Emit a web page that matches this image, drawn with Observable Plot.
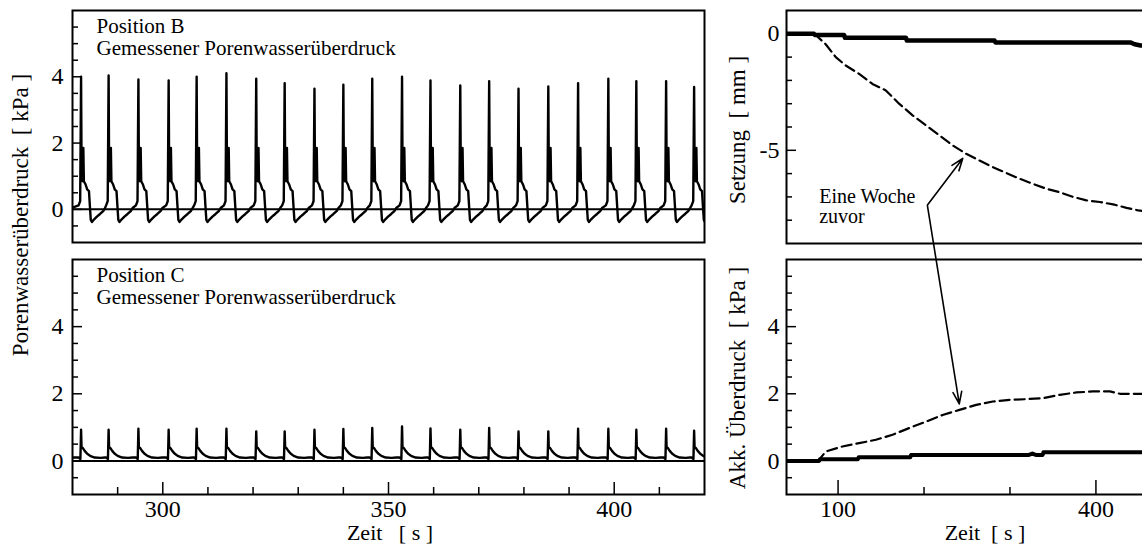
<!DOCTYPE html>
<html><head><meta charset="utf-8">
<script src="https://cdn.jsdelivr.net/npm/d3@7"></script>
<script src="https://cdn.jsdelivr.net/npm/@observablehq/plot@0.6"></script>
<style>
body{margin:0;background:#fff;}
#fig{position:relative;width:1142px;height:546px;overflow:hidden;background:#fff;font-family:'Liberation Serif','Tinos','DejaVu Serif',serif;color:#000;}
#fig svg{position:absolute;overflow:visible;}
#fig svg text{font-family:'Liberation Serif','Tinos','DejaVu Serif',serif;}
.lab{position:absolute;white-space:pre;font-size:23px;line-height:1;}
.rot{transform:translate(-50%,-50%) rotate(-90deg);}
.hor{transform:translate(-50%,0);font-size:22px;}
</style></head><body><div id="fig"></div>
<script>
// ---------- data ----------
// left panels: load cycles (time of each pressure spike, s)
const spikeTimes = [281.9, 288.0, 294.6, 301.3, 307.5, 314.1, 320.7, 327.0, 333.6, 340.0, 346.4,
                    353.0, 359.3, 365.9, 372.3, 378.8, 385.4, 392.0, 398.7, 404.9, 411.5, 417.7];
// peak of each spike, kPa
const peaksB = [4.0, 4.04, 3.92, 3.89, 4.0, 4.11, 3.94, 3.81, 3.64, 3.76, 3.94,
                4.0, 3.89, 3.74, 3.87, 3.64, 3.71, 3.81, 3.94, 3.87, 3.87, 3.69];
const peaksC = [0.93, 0.93, 0.96, 0.93, 0.96, 0.96, 0.88, 0.88, 0.93, 0.95, 0.98,
                1.03, 0.97, 0.93, 0.98, 0.88, 0.88, 0.96, 0.96, 0.93, 0.96, 0.9];
// shape of one cycle (time after spike, kPa; null = the spike peak)
const cycleOffsetsB = [-0.55, -0.2, 0, 0.12, 0.35, 0.5, 0.62, 1.0, 1.35, 1.75, 1.95, 2.15, 2.4, 2.9, 3.5, 4.2, 4.9, 5.3];
const cycleValuesB  = [0.12, 0.25, null, 1.0, 0.85, 1.85, 0.85, 0.75, 0.6, 0.55, 0.1, -0.32, -0.38, -0.3, -0.22, -0.14, -0.05, 0.04];
const cycleOffsetsC = [-0.55, -0.15, 0, 0.1, 0.4, 0.8, 1.3, 2.0, 3.0, 4.3, 5.3];
const cycleValuesC  = [0.1, 0.06, null, 0.42, 0.38, 0.3, 0.22, 0.15, 0.1, 0.09, 0.1];

// right top: Setzung [mm]
const setzTime  = [40, 72, 73, 107, 108, 179, 180, 282, 283, 440, 445, 452, 460];
const setzNow   = [0, 0, -0.05, -0.05, -0.17, -0.17, -0.29, -0.29, -0.37, -0.37, -0.45, -0.5, -0.5];
const setzWeekTime = [72, 74, 85.6, 97.3, 108.9, 124.5, 140, 155.6, 171, 186.7, 202.3, 217.9, 233.4, 249, 264.5,
                      280, 295.6, 311.2, 326.7, 342.3, 357.8, 373.3, 388.9, 404.5, 420, 435.6, 449.2, 460];
const setzWeek  = [0, -0.05, -0.45, -1.0, -1.36, -1.72, -2.15, -2.43, -3.0, -3.5, -3.93, -4.36, -4.79, -5.15, -5.44,
                   -5.72, -5.97, -6.22, -6.44, -6.65, -6.8, -7.0, -7.15, -7.22, -7.32, -7.47, -7.58, -7.62];
// right bottom: akkumulierter Überdruck [kPa]
const akkTime = [40, 78, 79, 123, 124, 184, 185, 322, 326, 330, 338, 339, 460];
const akkNow  = [0, 0, 0.05, 0.05, 0.11, 0.11, 0.18, 0.18, 0.22, 0.18, 0.18, 0.26, 0.26];
const akkWeekTime = [40, 77.8, 85.6, 105, 124.5, 144, 163.4, 182.8, 202.3, 221.7, 241.2, 260.7, 280.1, 299.5,
                     319, 338.4, 357.9, 377.4, 396.8, 416.3, 428, 460];
const akkWeek = [0, 0.03, 0.28, 0.43, 0.53, 0.63, 0.78, 0.98, 1.17, 1.37, 1.52, 1.67, 1.77, 1.82,
                 1.84, 1.87, 1.97, 2.04, 2.07, 2.07, 2.0, 2.0];

// ticks
const yKpaMajor = [0, 2, 4];
const yKpaMinor = [-0.5, 0.5, 1, 1.5, 2.5, 3, 3.5, 4.5, 5, 5.5];
const ySetzMajor = [0, -5];
const ySetzMinor = [-1, -2, -3, -4, -6, -7, -8];
const xLeftMajor = [300, 350, 400];
const xLeftMinor = [290, 310, 320, 330, 340, 360, 370, 380, 390, 410];
const xRightMajor = [100, 400];
const xRightMinor = [200, 300];

// texts
const titleB = "Position B\nGemessener Porenwasserüberdruck";
const titleC = "Position C\nGemessener Porenwasserüberdruck";
const annotation = [{x: 78, y: -6.6, text: "Eine Woche\nzuvor"}];
const arrowSetz = [{x1: 204, y1: -7.35, x2: 245, y2: -5.35}];
const arrowAkk  = [{x1: 204, y1: 7.6, x2: 241, y2: 1.7}];

// ---------- build tables ----------
function buildSeries(times, peaks, offs, vals, t0, v0) {
  const pts = [{t: t0, v: v0}];
  times.forEach((ts, i) => offs.forEach((o, j) => pts.push({t: ts + o, v: vals[j] === null ? peaks[i] : vals[j]})));
  return pts;
}
const seriesB = buildSeries(spikeTimes, peaksB, cycleOffsetsB, cycleValuesB, 280, 0.05);
const seriesC = buildSeries(spikeTimes, peaksC, cycleOffsetsC, cycleValuesC, 280, 0.1);
const zip = (xs, ys) => xs.map((x, i) => ({t: x, v: ys[i]}));

const font = "'Liberation Serif', 'Tinos', 'DejaVu Serif', serif";
const fig = document.getElementById("fig");
const style = {fontFamily: font, fontSize: "21px", overflow: "visible", background: "none"};
const fmt = d => String(d);
function place(svg, left, top) { svg.style.left = left + "px"; svg.style.top = top + "px"; fig.appendChild(svg); }

function yAxes(major, minor, pad) {
  return [
    Plot.axisY({ticks: minor, anchor: "left", tickSize: -6, tickFormat: () => "", strokeWidth: 1.5, label: null}),
    Plot.axisY({ticks: major, anchor: "left", tickSize: -10, tickPadding: pad, tickFormat: fmt, fontSize: 24, strokeWidth: 1.5, label: null})
  ];
}
function xAxes(major, minor, big, small) {
  return [
    Plot.axisX({ticks: minor, anchor: "bottom", tickSize: -small, tickFormat: () => "", strokeWidth: 1.5, label: null}),
    Plot.axisX({ticks: major, anchor: "bottom", tickSize: -big, tickPadding: big + 5, tickFormat: fmt, fontSize: 24, strokeWidth: 1.5, label: null})
  ];
}

// ---------- left top: Position B ----------
place(Plot.plot({
  width: 720, height: 250, marginLeft: 72, marginRight: 16, marginTop: 10, marginBottom: 8,
  style,
  x: {domain: [280, 420], axis: null}, y: {domain: [-1, 6], label: null},
  marks: [
    Plot.ruleY([0], {strokeWidth: 2}),
    Plot.line(seriesB, {x: "t", y: "v", strokeWidth: 2.4, clip: true}),
    ...yAxes(yKpaMajor, yKpaMinor, 19),
    Plot.text([titleB], {frameAnchor: "top-left", dx: 24, dy: 7, textAnchor: "start", lineAnchor: "top", fontSize: 21, lineHeight: 1.05}),
    Plot.frame({strokeWidth: 2})
  ]
}), 0, 0);

// ---------- left bottom: Position C ----------
place(Plot.plot({
  width: 720, height: 296, marginLeft: 72, marginRight: 16, marginTop: 9, marginBottom: 52,
  style,
  x: {domain: [280, 420], label: null}, y: {domain: [-1, 6], label: null},
  marks: [
    Plot.ruleY([0], {strokeWidth: 2}),
    Plot.line(seriesC, {x: "t", y: "v", strokeWidth: 2.4, clip: true}),
    ...yAxes(yKpaMajor, yKpaMinor, 19),
    ...xAxes(xLeftMajor, xLeftMinor, 12, 7),
    Plot.text([titleC], {frameAnchor: "top-left", dx: 24, dy: 7, textAnchor: "start", lineAnchor: "top", fontSize: 21, lineHeight: 1.05}),
    Plot.frame({strokeWidth: 2})
  ]
}), 0, 250);

// ---------- right top: Setzung ----------
place(Plot.plot({
  width: 440, height: 250, marginLeft: 66, marginRight: 13, marginTop: 10, marginBottom: 7,
  style,
  x: {domain: [40, 460], axis: null}, y: {domain: [-9, 1], label: null},
  marks: [
    Plot.line(zip(setzTime, setzNow), {x: "t", y: "v", strokeWidth: 4.5, clip: true}),
    Plot.line(zip(setzWeekTime, setzWeek), {x: "t", y: "v", strokeWidth: 2.2, strokeDasharray: "10,5", clip: true}),
    ...yAxes(ySetzMajor, ySetzMinor, 17),
    Plot.text(annotation, {x: "x", y: "y", text: "text", textAnchor: "start", lineAnchor: "top", fontSize: 20, lineHeight: 1.05}),
    Plot.arrow(arrowSetz, {x1: "x1", y1: "y1", x2: "x2", y2: "y2", strokeWidth: 1.6, headLength: 12, headAngle: 40}),
    Plot.frame({strokeWidth: 2})
  ]
}), 720, 0);

// ---------- right bottom: Akk. Überdruck ----------
place(Plot.plot({
  width: 440, height: 296, marginLeft: 66, marginRight: 13, marginTop: 9, marginBottom: 52,
  style,
  x: {domain: [40, 460], label: null}, y: {domain: [-1, 6], label: null},
  marks: [
    Plot.line(zip(akkTime, akkNow), {x: "t", y: "v", strokeWidth: 4, clip: true}),
    Plot.line(zip(akkWeekTime, akkWeek), {x: "t", y: "v", strokeWidth: 2.2, strokeDasharray: "10,5", clip: true}),
    ...yAxes(yKpaMajor, yKpaMinor, 17),
    ...xAxes(xRightMajor, xRightMinor, 14, 7),
    Plot.arrow(arrowAkk, {x1: "x1", y1: "y1", x2: "x2", y2: "y2", strokeWidth: 1.6, headLength: 12, headAngle: 40}),
    Plot.frame({strokeWidth: 2})
  ]
}), 720, 250);

// ---------- axis titles ----------
function label(text, x, y, cls) {
  const d = document.createElement("div");
  d.className = "lab " + cls;
  d.textContent = text;
  d.style.left = x + "px"; d.style.top = y + "px";
  fig.appendChild(d);
}
label("Porenwasserüberdruck  [ kPa ]", 20, 215, "rot");
label("Setzung  [ mm ]", 737, 130, "rot");
label("Akk. Überdruck  [ kPa ]", 737, 378, "rot");
label("Zeit   [ s ]", 390, 522, "hor");
label("Zeit  [ s ]", 985, 522, "hor");
</script></body></html>
